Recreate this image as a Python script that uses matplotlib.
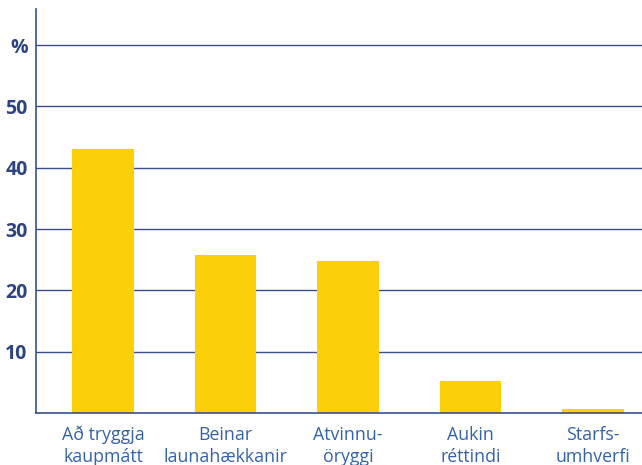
import matplotlib
matplotlib.use('Agg')
import matplotlib.pyplot as plt

# Gögn
categories = ['Að tryggja\nkaupmátt', 'Beinar\nlaunahækkanir', 'Atvinnu-\nöryggi',
              'Aukin\nréttindi', 'Starfs-\numhverfi']
values = [43.1, 25.8, 24.8, 5.2, 0.7]
yticks = [10, 20, 30, 40, 50, 60]
ytick_labels = ['10', '20', '30', '40', '50', '%']

bar_color = '#FCD008'
line_color = '#3B4F8C'
tick_color = '#2E4482'
label_color = '#3563A8'

plt.rcParams['font.family'] = ['Open Sans', 'DejaVu Sans']

fig = plt.figure(figsize=(6.42, 4.65), dpi=100)
ax = fig.add_axes([36 / 642, 52 / 465, 606 / 642, 404 / 465])

x = range(len(categories))
ax.bar(x, values, width=0.506, color=bar_color, zorder=3)

ax.set_xlim(-0.547, 4.4)
ax.set_ylim(0, 65.9)

ax.set_yticks(yticks)
ax.set_yticklabels(ytick_labels, fontsize=14, fontweight='bold', color=tick_color)
ax.yaxis.grid(True, color=line_color, linewidth=1.0, zorder=1)
ax.tick_params(axis='y', length=0, pad=6)

ax.set_xticks(list(x))
ax.set_xticklabels(categories, fontsize=12.8, color=label_color, linespacing=1.3)
ax.tick_params(axis='x', length=0, pad=9)

for side in ['top', 'right']:
    ax.spines[side].set_visible(False)
for side in ['left', 'bottom']:
    ax.spines[side].set_color(line_color)
    ax.spines[side].set_linewidth(1.2)
    ax.spines[side].set_zorder(4)

fig.savefig('out.png', dpi=100)
